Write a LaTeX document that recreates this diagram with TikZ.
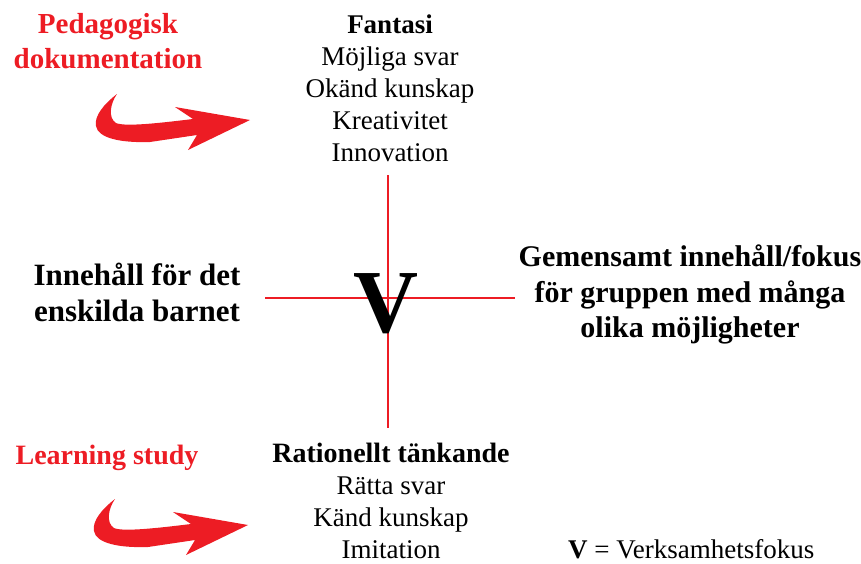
\documentclass[tikz,border=0pt]{standalone}
\usepackage{fontspec}
\setmainfont{Liberation Serif}
\definecolor{swred}{RGB}{237,28,36}
\tikzset{
  cross/.style ={draw=swred, line width=1.8pt},
  plain/.style ={font=\fontsize{27}{32}\selectfont, align=center, inner sep=0pt},
  mid/.style   ={font=\fontsize{30}{35.5}\selectfont\bfseries, align=center, inner sep=0pt},
  tag/.style   ={font=\fontsize{29}{35}\selectfont\bfseries, text=swred, align=center, inner sep=0pt},
  swoosh/.pic  ={
    \fill[swred] (-133,-26) .. controls (-146,-16) and (-156,-4) .. (-154,6)
      .. controls (-152,18) and (-130,23) .. (-100,22) -- (-53,15) -- (-62,30)
      -- (0,0) -- (-75,-13) -- (-57,-1)
      .. controls (-90,3) and (-125,7) .. (-134,3)
      .. controls (-142,-2) and (-140,-16) .. (-133,-26) -- cycle;
  }
}

\begin{document}
\begin{tikzpicture}[x=1pt, y=-1pt]
\useasboundingbox (0,0) rectangle (861,563);

% the cross
\coordinate (top)    at (388,175);
\coordinate (bottom) at (388,428);
\coordinate (left)   at (265,298);
\coordinate (right)  at (515,298);
\draw[cross] (top) -- (bottom);
\draw[cross] (left) -- (right);
\node[inner sep=0pt, font=\fontsize{90}{90}\selectfont\bfseries] (v) at (386,304) {V};

% texts round the cross
\node[plain, anchor=north] (fantasi) at (390,15)
  {\textbf{Fantasi}\\Möjliga svar\\Okänd kunskap\\Kreativitet\\Innovation};
\node[plain, anchor=north] (rational) at (391,443)
  {\fontsize{28}{32}\selectfont\textbf{Rationellt tänkande}\\Rätta svar\\Känd kunskap\\Imitation};
\node[mid, anchor=north, font=\fontsize{31}{36}\selectfont\bfseries] (single) at (137,263)
  {Innehåll för det\\enskilda barnet};
\node[mid, anchor=north] (group) at (690,245)
  {Gemensamt innehåll/fokus\\för gruppen med många\\olika möjligheter};

% methods
\node[tag, anchor=north] (pedagog) at (108,13) {Pedagogisk\\dokumentation};
\node[tag, anchor=north, font=\fontsize{28}{34}\selectfont\bfseries] (lstudy) at (107,445) {Learning study};
\pic at (250,120) {swoosh};
\pic at (248,525) {swoosh};

% legend
\node[plain, anchor=base west] (legend) at (568,558) {\textbf{V} = Verksamhetsfokus};
\end{tikzpicture}
\end{document}
